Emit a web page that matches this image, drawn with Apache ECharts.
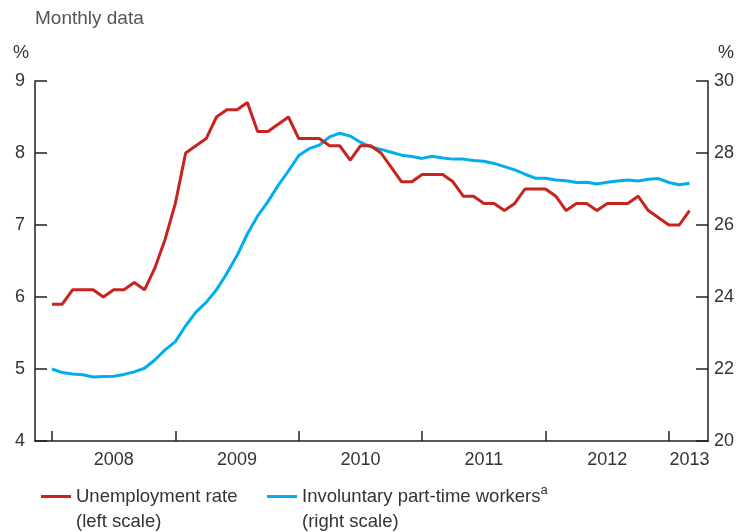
<!DOCTYPE html>
<html>
<head>
<meta charset="utf-8">
<script src="https://cdn.jsdelivr.net/npm/echarts@6/dist/echarts.min.js"></script>
<style>html,body{margin:0;padding:0;background:#fff}#c{width:743px;height:532px}</style>
</head>
<body>
<div id="c"></div>
<script>
// Monthly, Jan 2008 (index 0) through Mar 2013 (index 62)
var startYear = 2008;
var unemploymentRate = [
  5.9, 5.9, 6.1, 6.1, 6.1, 6.0, 6.1, 6.1, 6.2, 6.1, 6.4, 6.8,
  7.3, 8.0, 8.1, 8.2, 8.5, 8.6, 8.6, 8.7, 8.3, 8.3, 8.4, 8.5,
  8.2, 8.2, 8.2, 8.1, 8.1, 7.9, 8.1, 8.1, 8.0, 7.8, 7.6, 7.6,
  7.7, 7.7, 7.7, 7.6, 7.4, 7.4, 7.3, 7.3, 7.2, 7.3, 7.5, 7.5,
  7.5, 7.4, 7.2, 7.3, 7.3, 7.2, 7.3, 7.3, 7.3, 7.4, 7.2, 7.1,
  7.0, 7.0, 7.2
];
var involuntaryPartTime = [
  22.0, 21.9, 21.86, 21.84, 21.78, 21.79, 21.8, 21.85, 21.92, 22.02, 22.25, 22.53,
  22.76, 23.2, 23.58, 23.85, 24.2, 24.65, 25.15, 25.75, 26.25, 26.65, 27.1, 27.5,
  27.93, 28.12, 28.22, 28.45, 28.55, 28.47, 28.3, 28.17, 28.1, 28.02, 27.94, 27.9,
  27.85, 27.91, 27.86, 27.83, 27.83, 27.79, 27.77, 27.71, 27.62, 27.53, 27.41, 27.3,
  27.3, 27.25, 27.23, 27.18, 27.19, 27.14, 27.19, 27.22, 27.25, 27.22, 27.27, 27.29,
  27.18, 27.12, 27.16
];
var yearTickMonths = [0, 12, 24, 36, 48, 60];
var yearLabelMonths = [6, 18, 30, 42, 54, 62];
var yearLabels = ['2008', '2009', '2010', '2011', '2012', '2013'];
var seriesNames = ['Unemployment rate', 'Involuntary part-time workers'];

function toPairs(arr) { return arr.map(function (v, i) { return [i, v]; }); }

var FONT = 'Liberation Sans';
var AXIS = '#231f20';
var RED = '#c8231e';
var BLUE = '#00aeef';
var TXT = '#333';

var chart = echarts.init(document.getElementById('c'), null, {renderer: 'canvas'});
var legendBase = {
  orient: 'horizontal', itemWidth: 30, itemHeight: 3, icon: 'rect', itemGap: 0,
  top: 454, selectedMode: false,
  itemStyle: {borderWidth: 0},
  textStyle: {fontFamily: FONT, fontSize: 18.5, color: TXT, lineHeight: 25, padding: [25, 0, 0, 0],
    rich: {
      t: {fontFamily: FONT, fontSize: 18.5, color: TXT, lineHeight: 25},
      s: {fontFamily: FONT, fontSize: 13, color: TXT, lineHeight: 18, verticalAlign: 'top'}
    }}
};
chart.setOption({
  animation: false,
  title: {text: 'Monthly data', left: 35, top: 9, padding: 0,
    textStyle: {fontFamily: FONT, fontSize: 19, fontWeight: 'normal', color: '#555'}},
  grid: {left: 35, right: 35, top: 81, bottom: 91, containLabel: false},
  legend: [
    Object.assign({}, legendBase, {left: 36, data: [seriesNames[0]],
      formatter: function () { return '{t|Unemployment rate}\n{t|(left scale)}'; }}),
    Object.assign({}, legendBase, {left: 262, data: [seriesNames[1]],
      formatter: function () { return '{t|Involuntary part-time workers}{s|a}\n{t|(right scale)}'; }})
  ],
  xAxis: {
    type: 'value', min: -1.65, max: 63.8,
    axisLine: {show: true, onZero: false, lineStyle: {color: AXIS, width: 1.5}},
    axisTick: {show: true, inside: true, length: 10, customValues: yearTickMonths, lineStyle: {color: AXIS, width: 1.5}},
    axisLabel: {customValues: yearLabelMonths, margin: 10, fontFamily: FONT, fontSize: 18, color: TXT,
      formatter: function (v) { return yearLabels[yearLabelMonths.indexOf(Math.round(v))] || ''; }},
    splitLine: {show: false}
  },
  yAxis: [
    {type: 'value', min: 4, max: 9, interval: 1, position: 'left',
      name: '%', nameLocation: 'end', nameGap: 19,
      nameTextStyle: {fontFamily: FONT, fontSize: 18, color: TXT, align: 'right', padding: [0, 6, 0, 0]},
      axisLine: {show: true, onZero: false, lineStyle: {color: AXIS, width: 1.5}},
      axisTick: {show: true, inside: true, length: 12, lineStyle: {color: AXIS, width: 1.5}},
      axisLabel: {margin: 10, fontFamily: FONT, fontSize: 18, color: TXT},
      splitLine: {show: false}},
    {type: 'value', min: 20, max: 30, interval: 2, position: 'right',
      name: '%', nameLocation: 'end', nameGap: 19,
      nameTextStyle: {fontFamily: FONT, fontSize: 18, color: TXT, align: 'left', padding: [0, 0, 0, 10]},
      axisLine: {show: true, onZero: false, lineStyle: {color: AXIS, width: 1.5}},
      axisTick: {show: true, inside: true, length: 12, lineStyle: {color: AXIS, width: 1.5}},
      axisLabel: {margin: 6, fontFamily: FONT, fontSize: 18, color: TXT},
      splitLine: {show: false}}
  ],
  series: [
    {name: seriesNames[1], type: 'line', yAxisIndex: 1, data: toPairs(involuntaryPartTime),
      showSymbol: false, symbol: 'none', color: BLUE, lineStyle: {color: BLUE, width: 3}, z: 2},
    {name: seriesNames[0], type: 'line', yAxisIndex: 0, data: toPairs(unemploymentRate),
      showSymbol: false, symbol: 'none', color: RED, lineStyle: {color: RED, width: 3}, z: 3}
  ]
});
</script>
</body>
</html>
